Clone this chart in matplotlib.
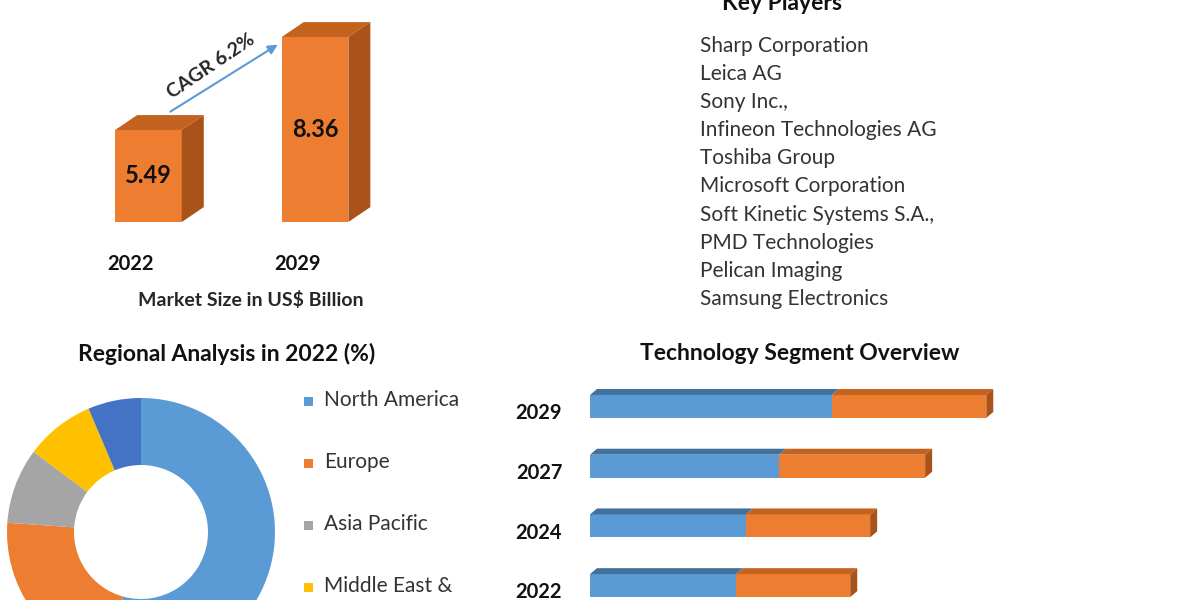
import matplotlib
matplotlib.use("Agg")
import matplotlib.pyplot as plt
from matplotlib.patches import Polygon, Rectangle
import numpy as np

plt.rcParams['font.family'] = ['Lato', 'DejaVu Sans']

# ---------------- data ----------------
size_years = ["2022", "2029"]
size_values = [5.49, 8.36]
cagr_label = "CAGR 6.2%"
size_title = "Market Size in US$ Billion"

players_title = "Key Players"
players = ["Sharp Corporation", "Leica AG", "Sony Inc.,", "Infineon Technologies AG",
           "Toshiba Group", "Microsoft Corporation", "Soft Kinetic Systems S.A.,",
           "PMD Technologies", "Pelican Imaging", "Samsung Electronics"]

region_title = "Regional Analysis in 2022 (%)"
regions = ["North America", "Europe", "Asia Pacific", "Middle East &\nAfrica", "South America"]
region_share = [54.3, 21.8, 9.1, 8.4, 6.4]

tech_title = "Technology Segment Overview"
tech_years = ["2029", "2027", "2024", "2022"]
tech_a = [5.10, 3.99, 3.29, 3.08]
tech_b = [3.26, 3.08, 2.62, 2.41]

# ---------------- style ----------------
W, H = 1200, 600
ORANGE, ORANGE_TOP, ORANGE_SIDE = "#ED7D31", "#C4631F", "#A9521A"
BLUE, BLUE_TOP = "#5B9BD5", "#41719C"
region_colors = ["#5B9BD5", "#ED7D31", "#A5A5A5", "#FFC000", "#4472C4"]
TXT = "#262626"

fig = plt.figure(figsize=(12, 6), dpi=100)
fig.patch.set_facecolor("white")

def px_axes(x0, y0, x1, y1):
    return fig.add_axes([x0 / W, 1 - y1 / H, (x1 - x0) / W, (y1 - y0) / H])

def fx(x):
    return x / W

def fy(y):
    return 1 - y / H

# ---------------- 3D market size bars ----------------
BASE = 2.65
k = 32.4            # px per unit
ax1 = px_axes(90, 0, 390, 222)
ax1.set_xlim(-0.351, 1.45)
ax1.set_ylim(BASE, BASE + 222 / k)
ax1.axis("off")
bw = 0.4
ddx, ddy = 0.132, 0.46
xs = np.arange(len(size_values))
ax1.bar(xs, np.array(size_values) - BASE, bottom=BASE, width=bw, color=ORANGE, zorder=3, clip_on=False)
for x, v in zip(xs, size_values):
    top = Polygon([(x - bw / 2, v), (x - bw / 2 + ddx, v + ddy), (x + bw / 2 + ddx, v + ddy), (x + bw / 2, v)],
                  closed=True, facecolor=ORANGE_TOP, edgecolor="none", zorder=3, clip_on=False)
    side = Polygon([(x + bw / 2, BASE), (x + bw / 2 + ddx, BASE + ddy), (x + bw / 2 + ddx, v + ddy), (x + bw / 2, v)],
                   closed=True, facecolor=ORANGE_SIDE, edgecolor="none", zorder=3, clip_on=False)
    ax1.add_patch(top)
    ax1.add_patch(side)
    ax1.text(x, BASE + (v - BASE) * 0.5, f"{v:.2f}", ha="center", va="center",
             fontsize=17, fontweight="bold", color="#111111", zorder=4)
    ax1.annotate(size_years[int(x)], xy=(x, BASE), xytext=(-18, -42), textcoords="offset pixels",
                 ha="center", va="center", fontsize=14.5, fontweight="bold", color="#111111",
                 annotation_clip=False)

ax1.annotate("", xy=(0.79, 8.17), xytext=(0.117, 6.01),
             arrowprops=dict(arrowstyle="-|>", color=BLUE, lw=1.5, mutation_scale=14),
             annotation_clip=False)
ax1.text(0.375, 7.45, cagr_label, rotation=34, ha="center", va="center",
         fontsize=14, fontweight="bold", color=TXT, rotation_mode="anchor")
fig.text(fx(251), fy(300), size_title, ha="center", va="center", fontsize=14, fontweight="bold", color=TXT)

# ---------------- key players ----------------
fig.text(fx(782), fy(3), players_title, ha="center", va="center", fontsize=16.5, fontweight="bold", color="#111111")
for i, p in enumerate(players):
    fig.text(fx(700), fy(46 + i * 28.1), p, ha="left", va="center", fontsize=15, color="#333333")

# ---------------- regional donut ----------------
fig.text(fx(227), fy(354), region_title, ha="center", va="center", fontsize=16.5, fontweight="bold", color="#111111")
ax2 = px_axes(7, 398, 275, 666)
wedges, _ = ax2.pie(region_share, colors=region_colors, startangle=90, counterclock=False,
                    radius=1, wedgeprops=dict(width=0.5, edgecolor="none"))
ax2.set_xlim(-1, 1)
ax2.set_ylim(-1, 1)
ax2.set_aspect("equal")
ax2.axis("off")
# legend entries (marker aligned with first text line)
for i, (lab, col) in enumerate(zip(regions, region_colors)):
    yc = 400 + i * 62
    fig.patches.append(Rectangle((fx(304), fy(yc + 6)), 9 / W, 9 / H, transform=fig.transFigure,
                                 facecolor=col, edgecolor="none", figure=fig))
    fig.text(fx(324), fy(yc - 10), lab, ha="left", va="top", fontsize=15, color="#333333",
             linespacing=1.6)

# ---------------- technology segment ----------------
fig.text(fx(800), fy(353), tech_title, ha="center", va="center", fontsize=16.5, fontweight="bold", color="#111111")
ax3 = px_axes(590, 370, 1200, 600)
ax3.set_xlim(0, 610 / 47.4)
ax3.set_ylim(3.241, -0.611)
ys = np.arange(len(tech_years))
bh = 0.385
tdx, tdy = 0.148, 0.1
ax3.barh(ys, tech_a, height=bh, color=BLUE, zorder=3)
ax3.barh(ys, tech_b, left=tech_a, height=bh, color=ORANGE, zorder=3)
for y, a, b in zip(ys, tech_a, tech_b):
    yt = y - bh / 2
    ax3.add_patch(Polygon([(0, yt), (tdx, yt - tdy), (a + tdx, yt - tdy), (a, yt)],
                          facecolor=BLUE_TOP, edgecolor="none", zorder=3))
    ax3.add_patch(Polygon([(a, yt), (a + tdx, yt - tdy), (a + b + tdx, yt - tdy), (a + b, yt)],
                          facecolor=ORANGE_TOP, edgecolor="none", zorder=3))
    ax3.add_patch(Polygon([(a + b, yt), (a + b + tdx, yt - tdy), (a + b + tdx, y + bh / 2 - tdy), (a + b, y + bh / 2)],
                          facecolor=ORANGE_SIDE, edgecolor="none", zorder=3))
ax3.set_yticks(ys + 0.08)
ax3.set_yticklabels(tech_years, fontsize=14.5, fontweight="bold", color="#111111")
ax3.tick_params(axis="y", length=0, pad=20)
ax3.set_xticks([])
for s in ax3.spines.values():
    s.set_visible(False)

fig.savefig("out.png", dpi=100, facecolor="white")
